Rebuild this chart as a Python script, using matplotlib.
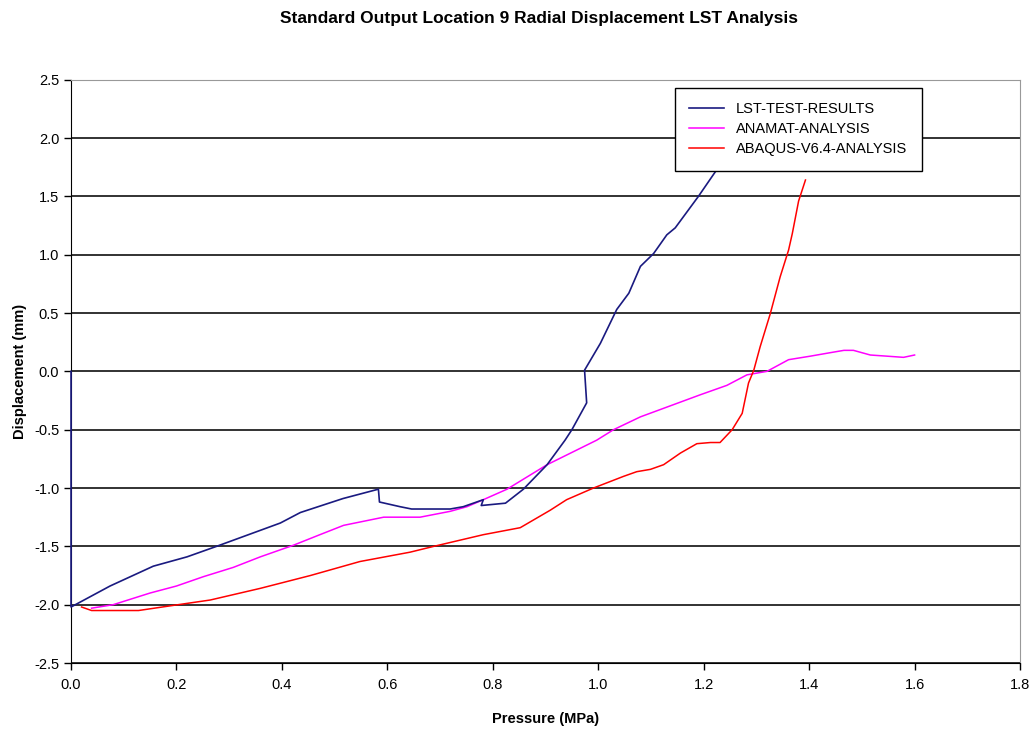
import matplotlib
matplotlib.use('Agg')
import matplotlib.pyplot as plt
import matplotlib.ticker as ticker

plt.rcParams['font.family'] = ['Liberation Sans', 'DejaVu Sans']

# LST test results
lst_x = [0.0, 0.0, 0.074, 0.156, 0.22, 0.276, 0.397, 0.435, 0.516, 0.583,
         0.585, 0.624, 0.646, 0.719, 0.744, 0.782, 0.778, 0.824, 0.858,
         0.903, 0.937, 0.95, 0.978, 0.974, 1.004, 1.035, 1.058, 1.08, 1.105,
         1.13, 1.146, 1.19, 1.225, 1.25]
lst_y = [0.0, -2.02, -1.84, -1.67, -1.59, -1.50, -1.30, -1.21, -1.09, -1.01,
         -1.12, -1.16, -1.18, -1.18, -1.16, -1.10, -1.15, -1.13, -1.01,
         -0.80, -0.59, -0.50, -0.27, 0.01, 0.24, 0.53, 0.67, 0.90, 1.01,
         1.17, 1.23, 1.50, 1.73, 1.95]

# ANAMAT analysis
anamat_x = [0.039, 0.08, 0.15, 0.2, 0.251, 0.308, 0.359, 0.422, 0.472, 0.517,
            0.593, 0.662, 0.719, 0.751, 0.782, 0.827, 0.903, 0.997, 1.029,
            1.08, 1.194, 1.244, 1.282, 1.32, 1.361, 1.402, 1.44, 1.466, 1.484,
            1.516, 1.548, 1.579, 1.60]
anamat_y = [-2.03, -2.0, -1.90, -1.84, -1.76, -1.68, -1.59, -1.49, -1.40, -1.32,
            -1.25, -1.25, -1.20, -1.16, -1.10, -1.01, -0.80, -0.59, -0.50,
            -0.39, -0.20, -0.12, -0.03, 0.0, 0.10, 0.13, 0.16, 0.18, 0.18,
            0.14, 0.13, 0.12, 0.14]

# ABAQUS v6.4 analysis
abaqus_x = [0.02, 0.039, 0.128, 0.188, 0.264, 0.359, 0.454, 0.548, 0.643,
            0.688, 0.782, 0.852, 0.909, 0.94, 0.991, 1.048, 1.073, 1.099,
            1.124, 1.156, 1.187, 1.213, 1.231, 1.254, 1.273, 1.285, 1.295,
            1.307, 1.326, 1.345, 1.361, 1.368, 1.38, 1.393]
abaqus_y = [-2.02, -2.05, -2.05, -2.01, -1.96, -1.86, -1.75, -1.63, -1.55,
            -1.50, -1.40, -1.34, -1.19, -1.10, -1.00, -0.90, -0.86, -0.84,
            -0.80, -0.70, -0.62, -0.61, -0.61, -0.50, -0.36, -0.10, 0.01,
            0.21, 0.49, 0.81, 1.04, 1.18, 1.46, 1.64]

fig = plt.figure(figsize=(10.34, 7.31), dpi=100)
ax = fig.add_axes([0.0687, 0.093, 0.9178, 0.798])

# the test curve starts with a vertical run along x=0, so keep it above the spine
ax.plot(lst_x, lst_y, color='#1a1a80', linewidth=1.2, label='LST-TEST-RESULTS',
        zorder=3, clip_on=False)
ax.plot(anamat_x, anamat_y, color='#ff00ff', linewidth=1.1, label='ANAMAT-ANALYSIS')
ax.plot(abaqus_x, abaqus_y, color='#ff0000', linewidth=1.1, label='ABAQUS-V6.4-ANALYSIS')

ax.set_xlim(0, 1.8)
ax.set_ylim(-2.5, 2.5)
ax.xaxis.set_major_locator(ticker.MultipleLocator(0.2))
ax.yaxis.set_major_locator(ticker.MultipleLocator(0.5))
ax.xaxis.set_major_formatter(ticker.FormatStrFormatter('%.1f'))
ax.yaxis.set_major_formatter(ticker.FormatStrFormatter('%.1f'))
ax.yaxis.grid(True, color='#222222', linewidth=1.3)
ax.set_axisbelow(True)
ax.tick_params(direction='out', length=5, width=1, labelsize=10.5, colors='black')
ax.tick_params(axis='x', pad=6)

for side in ['top', 'right']:
    ax.spines[side].set_color('#999999')
for side in ['left', 'bottom']:
    ax.spines[side].set_color('black')

ax.set_xlabel('Pressure (MPa)', fontsize=10.5, fontweight='bold', labelpad=14)
ax.set_ylabel('Displacement (mm)', fontsize=10.5, fontweight='bold', labelpad=5)
fig.text(0.521, 0.975, 'Standard Output Location 9 Radial Displacement LST Analysis',
         fontsize=12.5, fontweight='bold', ha='center', va='center')

leg = ax.legend(loc='upper left', bbox_to_anchor=(0.636, 0.986), fontsize=10.5,
                frameon=True, fancybox=False, framealpha=1, edgecolor='black',
                handlelength=2.4, borderpad=1.0, labelspacing=0.4,
                borderaxespad=0)
leg.get_frame().set_linewidth(1.0)

plt.savefig('out.png', dpi=100)
